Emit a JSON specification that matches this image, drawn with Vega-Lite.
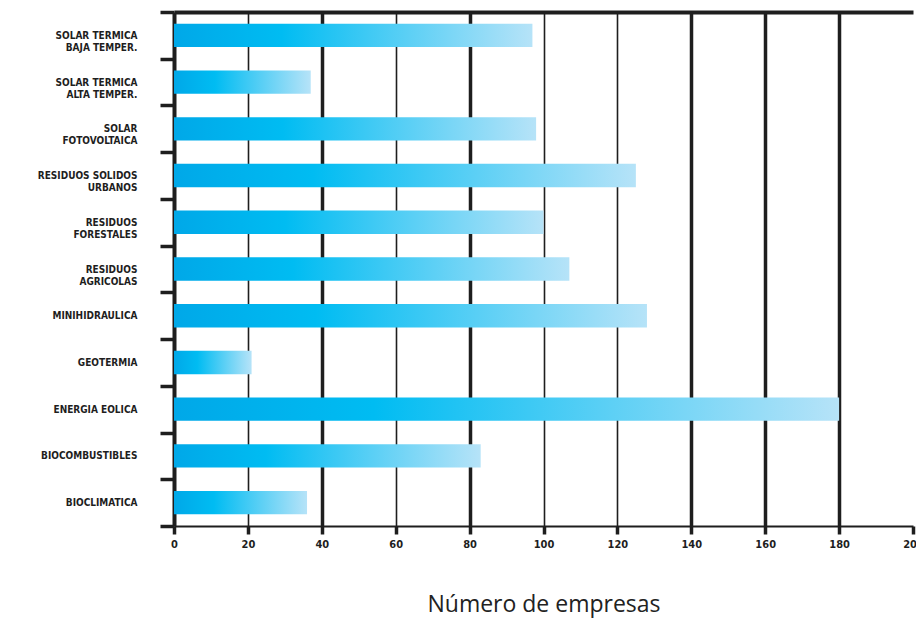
{
  "$schema": "https://vega.github.io/schema/vega-lite/v6.json",
  "autosize": "none",
  "padding": {"left": 174, "top": 12, "right": 3, "bottom": 94},
  "width": 739,
  "height": 514,
  "background": "white",
  "config": {"view": {"stroke": null}},
  "data": {
    "values": [
      {"tecnologia": "SOLAR TERMICA|BAJA TEMPER.", "empresas": 97},
      {"tecnologia": "SOLAR TERMICA|ALTA TEMPER.", "empresas": 37},
      {"tecnologia": "SOLAR|FOTOVOLTAICA", "empresas": 98},
      {"tecnologia": "RESIDUOS SOLIDOS|URBANOS", "empresas": 125},
      {"tecnologia": "RESIDUOS|FORESTALES", "empresas": 100},
      {"tecnologia": "RESIDUOS|AGRICOLAS", "empresas": 107},
      {"tecnologia": "MINIHIDRAULICA", "empresas": 128},
      {"tecnologia": "GEOTERMIA", "empresas": 21},
      {"tecnologia": "ENERGIA EOLICA", "empresas": 180},
      {"tecnologia": "BIOCOMBUSTIBLES", "empresas": 83},
      {"tecnologia": "BIOCLIMATICA", "empresas": 36}
    ]
  },
  "layer": [
    {
      "mark": {
        "type": "bar",
        "height": {"band": 0.5},
        "color": {
          "gradient": "linear",
          "x1": 0, "y1": 0, "x2": 1, "y2": 0,
          "stops": [
            {"offset": 0, "color": "#00a8e8"},
            {"offset": 0.3, "color": "#00bcf2"},
            {"offset": 1, "color": "#b6e3f8"}
          ]
        }
      },
      "encoding": {
        "x": {
          "field": "empresas",
          "type": "quantitative",
          "scale": {"domain": [0, 200], "nice": false},
          "axis": {
            "orient": "bottom",
            "values": [0, 20, 40, 60, 80, 100, 120, 140, 160, 180, 200],
            "title": "Número de empresas",
            "titleFont": "Open Sans",
            "titleFontSize": 23,
            "titleFontWeight": "normal",
            "titleColor": "#222222",
            "titlePadding": 44,
            "grid": true,
            "gridColor": "#1e1e1e",
            "gridWidth": {"condition": {"test": "indexof([40, 80, 140, 160, 180], datum.value) >= 0", "value": 3.5}, "value": 1.6},
            "gridOpacity": {"condition": {"test": "datum.value == 200 || datum.value == 0", "value": 0}, "value": 1},
            "domainColor": "#1e1e1e",
            "domainWidth": 2,
            "tickColor": "#1e1e1e",
            "tickWidth": 3.5,
            "tickSize": 8,
            "labelFont": "DejaVu Sans Condensed",
            "labelFontWeight": "bold",
            "labelFontSize": 11,
            "labelColor": "#1e1e1e",
            "labelPadding": 4,
            "labelFlush": false,
            "labelOverlap": false
          }
        },
        "y": {
          "field": "tecnologia",
          "type": "nominal",
          "sort": null,
          "scale": {"paddingInner": 0, "paddingOuter": 0},
          "axis": {
            "title": null,
            "orient": "left",
            "tickBand": "extent",
            "domainColor": "#1e1e1e",
            "domainWidth": 4,
            "tickColor": "#1e1e1e",
            "tickWidth": 3.5,
            "tickSize": 14,
            "labelPadding": 23,
            "labelExpr": "split(datum.label, '|')",
            "labelFont": "DejaVu Sans Condensed",
            "labelFontWeight": "bold",
            "labelFontSize": 10,
            "labelLineHeight": 12,
            "labelColor": "#1e1e1e",
            "labelAlign": "right",
            "labelBaseline": "middle",
            "labelLimit": 200
          }
        }
      }
    },
    {
      "mark": {"type": "bar", "opacity": 0, "height": {"band": 0.5}},
      "encoding": {
        "x": {
          "field": "empresas",
          "type": "quantitative",
          "scale": {"domain": [0, 200], "nice": false},
          "axis": {
            "orient": "top",
            "title": null,
            "labels": false,
            "ticks": false,
            "grid": false,
            "domainColor": "#1e1e1e",
            "domainWidth": 4
          }
        },
        "y": {
          "field": "tecnologia",
          "type": "nominal",
          "sort": null
        }
      }
    }
  ],
  "resolve": {"axis": {"x": "independent"}}
}
